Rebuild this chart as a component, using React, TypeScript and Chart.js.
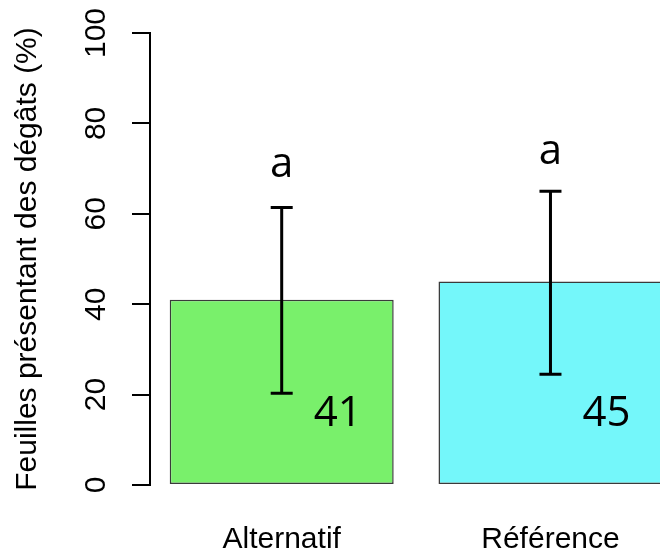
import React, { useEffect, useRef } from "react";
import { Chart, registerables } from "chart.js";

Chart.register(...registerables);

// ---- data ----
const categories = ["Alternatif", "Référence"];
const barCenters = [0.7, 1.9]; // R barplot positions (width 1, space 0.2)
const means = [41, 45];
const errLow = [20.3, 24.5];
const errHigh = [61.4, 65];
const letters = ["a", "a"];
const letterBaselines = [68.2, 71];
const valueLabels = ["41", "45"];
const valueLabelBaseline = 13;
const yTicks = [0, 20, 40, 60, 80, 100];
const xRange = [0.112, 2.389];
const barColors = ["#79F06B", "#74F7FA"];
const yTitle = "Feuilles présentant des dégâts (%)";

const AXIS_FONT = "'Liberation Sans', Arial, sans-serif";
const ANNOT_FONT = "'Open Sans', 'Noto Sans', sans-serif";

const annotPlugin = {
  id: "annot",
  afterDatasetsDraw(chart: any) {
    const ctx = chart.ctx;
    const xs = chart.scales.x;
    const ys = chart.scales.y;
    const meta = chart.getDatasetMeta(0);
    ctx.save();
    ctx.strokeStyle = "#000";
    ctx.fillStyle = "#000";
    ctx.lineWidth = 3;
    barCenters.forEach((c, i) => {
      const x = xs.getPixelForValue(c);
      const yl = ys.getPixelForValue(errLow[i]);
      const yh = ys.getPixelForValue(errHigh[i]);
      const cap = 11;
      ctx.beginPath();
      ctx.moveTo(x, yl);
      ctx.lineTo(x, yh);
      ctx.moveTo(x - cap, yh);
      ctx.lineTo(x + cap, yh);
      ctx.moveTo(x - cap, yl);
      ctx.lineTo(x + cap, yl);
      ctx.stroke();

      ctx.font = `42px ${ANNOT_FONT}`;
      ctx.textAlign = "center";
      ctx.textBaseline = "alphabetic";
      ctx.fillText(letters[i], x, ys.getPixelForValue(letterBaselines[i]));

      const bw = meta.data[i].width;
      ctx.fillText(valueLabels[i], x + bw * 0.25, ys.getPixelForValue(valueLabelBaseline));
    });
    ctx.restore();
  },
};

export default function App() {
  const ref = useRef<HTMLCanvasElement | null>(null);
  useEffect(() => {
    if (!ref.current) return;
    const chart = new Chart(ref.current, {
      type: "bar",
      data: {
        datasets: [
          {
            data: barCenters.map((x, i) => ({ x, y: means[i] })),
            backgroundColor: barColors,
            borderColor: "#3a3a3a",
            borderWidth: 1.5,
            borderSkipped: false,
            barPercentage: 1 / 1.2,
            categoryPercentage: 1,
          },
        ],
      },
      options: {
        responsive: false,
        animation: false,
        layout: { padding: { top: 33, left: 0, right: 0, bottom: 0 } },
        plugins: { legend: { display: false }, tooltip: { enabled: false } },
        scales: {
          x: {
            type: "linear",
            offset: false,
            min: xRange[0],
            max: xRange[1],
            afterBuildTicks: (s: any) => {
              s.ticks = barCenters.map((v) => ({ value: v }));
            },
            afterFit: (s: any) => {
              s.height = 72;
            },
            grid: { display: false, drawTicks: false, offset: false },
            border: { display: false },
            ticks: {
              autoSkip: false,
              maxRotation: 0,
              minRotation: 0,
              padding: 37,
              color: "#000",
              font: { family: AXIS_FONT, size: 30 },
              callback: (_v: any, i: number) => categories[i],
            },
          },
          y: {
            min: 0,
            max: 100,
            afterBuildTicks: (s: any) => {
              s.ticks = yTicks.map((v) => ({ value: v }));
            },
            afterFit: (s: any) => {
              s.width = 150;
            },
            grid: {
              drawOnChartArea: false,
              tickLength: 18,
              color: "#000",
              lineWidth: 2,
            },
            border: { display: true, color: "#000", width: 2 },
            ticks: {
              minRotation: 90,
              maxRotation: 90,
              crossAlign: "center",
              padding: 10,
              color: "#000",
              font: { family: AXIS_FONT, size: 30 },
            },
            title: {
              display: true,
              text: yTitle,
              color: "#000",
              font: { family: AXIS_FONT, size: 30 },
              padding: { top: 10, bottom: 0 },
            },
          },
        },
      },
      plugins: [annotPlugin],
    } as any);
    return () => chart.destroy();
  }, []);
  return (
    <div style={{ position: "absolute", left: 0, top: 0, width: 660, height: 557, background: "#fff" }}>
      <canvas ref={ref} width={660} height={557} />
    </div>
  );
}
